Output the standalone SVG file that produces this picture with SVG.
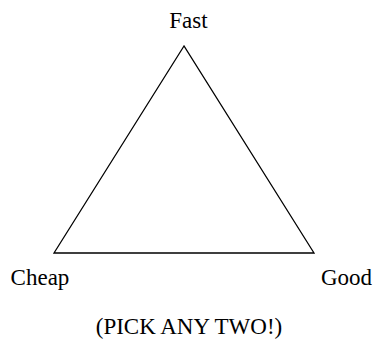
<svg xmlns="http://www.w3.org/2000/svg" width="375" height="343" viewBox="0 0 375 343">
<style>
.edge{fill:none;stroke:#000;stroke-width:1.3}
</style>
<rect width="375" height="343" fill="#fff"/>
<g id="connectors">
<path class="edge" d="M184,46 L54,253 L314,253 Z"/>
</g>
<g id="fast"><text x="188.5" y="27.5" text-anchor="middle" font-family="Liberation Serif" font-size="23" style="font-family:'Liberation Serif',serif">Fast</text></g>
<g id="cheap"><text x="40" y="285" text-anchor="middle" font-family="Liberation Serif" font-size="23" style="font-family:'Liberation Serif',serif">Cheap</text></g>
<g id="good"><text x="346.5" y="284.5" text-anchor="middle" font-family="Liberation Serif" font-size="23" style="font-family:'Liberation Serif',serif">Good</text></g>
<g id="note"><text x="189" y="334" text-anchor="middle" font-family="Liberation Serif" font-size="23" style="font-family:'Liberation Serif',serif">(PICK ANY TWO!)</text></g>
</svg>
